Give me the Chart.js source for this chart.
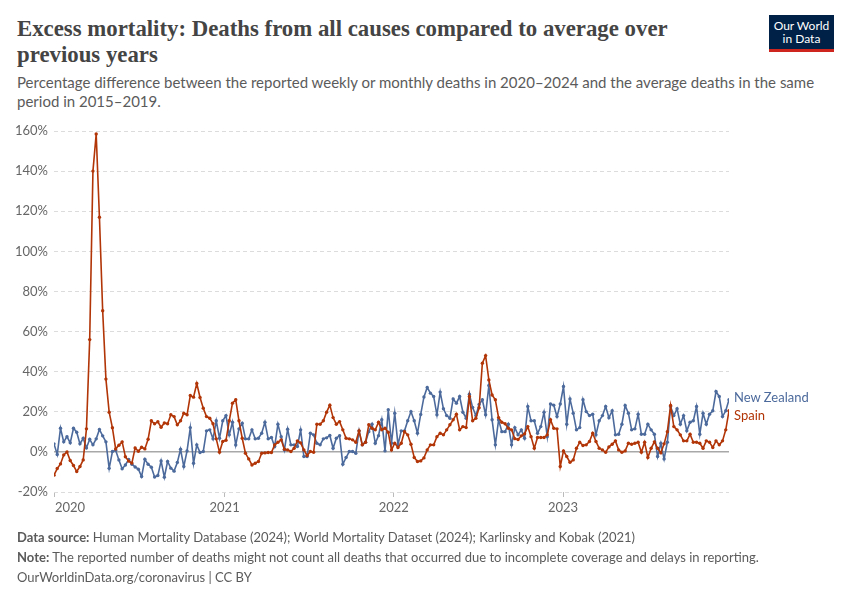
<!DOCTYPE html>
<html><head><meta charset="utf-8">
<script src="https://cdn.jsdelivr.net/npm/chart.js@4.4.1/dist/chart.umd.min.js"></script>
<style>
html,body{margin:0;padding:0;background:#fff;}
body{width:850px;height:600px;position:relative;overflow:hidden;font-family:Lato,"Noto Sans",sans-serif;}
#title{position:absolute;left:17px;top:16px;font-family:"Liberation Serif",serif;font-weight:bold;font-size:22.8px;line-height:26px;color:#444;white-space:nowrap;}
#sub{position:absolute;left:17px;top:73px;font-size:15px;line-height:18.5px;color:#5b5b5b;white-space:nowrap;}
#logo{position:absolute;left:769px;top:15px;width:65px;background:#002147;border-bottom:3px solid #ce261e;color:#fff;font-size:12px;line-height:13px;text-align:center;padding-top:4px;box-sizing:content-box;height:30px;}
#foot{position:absolute;left:17px;top:527px;font-size:13px;line-height:20px;color:#5b5b5b;white-space:nowrap;}
#foot b{font-weight:bold;color:#5b5b5b;}
.lab{position:absolute;left:734px;font-size:13px;line-height:16px;white-space:nowrap;}
canvas{position:absolute;left:0;top:0;}
</style></head>
<body>
<div id="title">Excess mortality: Deaths from all causes compared to average over<br>previous years</div>
<div id="sub">Percentage difference between the reported weekly or monthly deaths in 2020–2024 and the average deaths in the same<br>period in 2015–2019.</div>
<div id="logo">Our World<br>in Data</div>
<canvas id="c" width="850" height="600"></canvas>
<div class="lab" style="top:389px;color:#4c6a9c">New Zealand</div>
<div class="lab" style="top:407px;color:#b13507">Spain</div>
<div id="foot"><b>Data source:</b> Human Mortality Database (2024); World Mortality Dataset (2024); Karlinsky and Kobak (2021)<br><b>Note:</b> The reported number of deaths might not count all deaths that occurred due to incomplete coverage and delays in reporting.<br>OurWorldinData.org/coronavirus | CC BY</div>
<script>
// weekly series, first week at day offset -2 relative to 2020-01-01
const firstDay = -2;
const yearLabels = ["2020", "2021", "2022", "2023"];
const yearDays = [0, 366, 731, 1096];
const yTicks = [-20, 0, 20, 40, 60, 80, 100, 120, 140, 160];

const spain = [-11.6,-8.3,-6,-1.5,0,-4.3,-6.8,-9.8,-7.3,-4,
11.5,56,140,158.5,117,70.4,36.3,19.8,12,1.5,
3.3,5,-2.4,-4.6,-5.6,2,0.3,2.3,1.5,6.3,
15.5,14,15,12.3,14.4,14,18.5,17.6,13.5,15.5,
19.3,18.5,28.1,27.3,34.1,27.1,21.8,17.6,16.8,14,
6.5,-0.2,5.2,5.8,15.5,24.3,26,15.5,6.8,-0.7,
-3.5,-6.5,-5.7,-4.8,-0.7,-0.5,-0.3,-0.3,3.5,4.8,
6,1.3,1,0.2,1.8,5.5,4.5,1,-1.8,0.2,
-0.2,13.8,13.8,15.5,19.8,23.3,17.1,13.8,15.1,11,
6.8,6.5,6,4.8,10.5,3.5,4.8,13.5,11.8,11,
14.8,11,11.8,9.8,1,4.3,2.2,4.3,10.1,8.5,
3.8,-2.8,-4.8,-4.5,-3,1,3.5,3.5,7.6,9.3,
8.5,11,13.5,16,18.8,11,12.6,12.1,27.6,15.5,
16.8,22,44.2,48,35.9,28.4,26,17.1,14.8,14,
11.8,11,6.6,6.2,8,9,12.6,7.6,1.8,7.2,
7.2,7.2,8.5,16,11.8,11.5,-7.3,0.5,-2.3,-5.2,
-4,1.8,4.8,3.2,3.5,5.2,9.3,5.2,1.8,1,
-0.2,2.5,3.8,5.5,1,-0.2,0.5,4.3,3.8,4.3,
4.8,-0.2,4.8,-2.8,1.8,5,1.8,-0.5,4,10.1,
23.1,12.6,11,8.5,5.5,5.5,8.8,4.8,4.8,4.3,
1.8,5.5,4.8,2.2,5.5,3.5,5.5,11,20.5];

const newZealand = [4,-1.3,11.8,5,7.6,4.5,11.8,9.8,4,6.8,
2,6.3,3.5,6.5,11.2,8,5,-8.2,0.2,0.8,
-4,-8.4,-6.5,-3.8,-6.2,-7.5,-8.6,-12.3,-3.7,-6.2,
-7.6,-12.5,-11.8,-4.5,-12.6,-4.8,-8.1,-9.6,-5.3,1.3,
-7.3,0.5,12.1,-5.7,3.5,-0.3,0.2,10.5,11,6.5,
15.5,6.8,15.5,18.1,8.5,14.8,3.4,11.5,14.3,6.5,
6.5,11,6.5,6.8,9.3,14.8,6.5,7.2,2.7,13.8,
7.6,1,11.3,3.5,3.5,2.7,11,-2.3,-2.3,9.3,
8.5,4.3,3.5,6.5,7,8.2,1.8,6.8,8.1,-6.2,
-2.8,0.2,0.2,-0.7,10.5,3.5,4.8,10.1,13.8,4.3,
8.1,16,0.5,21,4.3,19.3,3.5,10.5,10.5,15.5,
20.1,15.5,9.3,18.7,27.4,32.1,29.3,27.6,18.5,29.8,
21.5,18.1,16.8,26.4,24.3,27.6,19.8,16.8,28.8,22.1,
18.1,23.6,26,18.5,33.1,16,3.5,16,10.1,10.1,
13.8,3.5,12.1,8.5,11,6.8,22.6,15.5,15.5,9.3,
12.6,19.8,7.6,23.9,23.3,17.6,23.9,32.6,13.8,26.4,
19.3,11,12.1,26,20.1,18.1,18.8,8.5,15.5,18.1,
22.6,17,20.5,8.5,8.8,13.8,23.1,19.3,11,11.5,
18.8,8.8,8.8,13.8,11,8.8,-2.3,4.3,-3.5,4.8,
22.6,18.1,21.5,13.8,18.1,10.5,14.8,15.5,22.6,8.8,
19.3,13.8,18.8,20.5,30.1,27.6,17.6,20.5,26];

const weekDays = spain.map((_, i) => firstDay + 7 * i);
const lastDay = weekDays[weekDays.length - 1];
const toPoints = arr => arr.map((v, i) => ({x: weekDays[i], y: v}));

const blue = '#4c6a9c', red = '#b13507';

new Chart(document.getElementById('c'), {
  type: 'line',
  data: {
    datasets: [
      {label: 'Spain', data: toPoints(spain), borderColor: red, backgroundColor: red,
       borderWidth: 1.6, pointRadius: 1.7, pointBorderWidth: 0, pointBackgroundColor: red, order: 0, tension: 0},
      {label: 'New Zealand', data: toPoints(newZealand), borderColor: blue, backgroundColor: blue,
       borderWidth: 1.6, pointRadius: 1.7, pointBorderWidth: 0, pointBackgroundColor: blue, order: 1, tension: 0}
    ]
  },
  options: {
    responsive: false,
    animation: false,
    layout: {padding: {left: 0, right: 121, top: 131, bottom: 0}},
    plugins: {legend: {display: false}, tooltip: {enabled: false}},
    scales: {
      x: {
        type: 'linear', min: firstDay, max: lastDay,
        afterBuildTicks: s => { s.ticks = yearDays.map(v => ({value: v})).concat([{value: lastDay}]); },
        afterFit: s => { s.height = 108; },
        ticks: {
          autoSkip: false, maxRotation: 0, align: 'inner', padding: 3,
          color: '#666', font: {family: 'Lato', size: 13},
          callback: (v) => { const k = yearDays.indexOf(v); return k >= 0 ? yearLabels[k] : ''; }
        },
        grid: {drawOnChartArea: false, drawTicks: true, tickLength: 5,
               tickColor: c => (c.index < yearDays.length ? '#bbb' : 'rgba(0,0,0,0)')},
        border: {display: false}
      },
      y: {
        min: -20, max: 160,
        afterBuildTicks: s => { s.ticks = yTicks.map(v => ({value: v})); },
        afterFit: s => { s.width = 54; },
        ticks: {color: '#666', font: {family: 'Lato', size: 13}, padding: 6,
                callback: v => v + '%'},
        grid: {drawTicks: false,
               color: c => (c.tick && c.tick.value === 0 ? '#a8a8a8' : '#dcdcdc'),
               lineWidth: c => (c.tick && c.tick.value === 0 ? 1.5 : 1)},
        border: {display: false, dash: c => (c.tick && c.tick.value === 0 ? [] : [4, 3])}
      }
    }
  }
});
</script>
</body></html>
